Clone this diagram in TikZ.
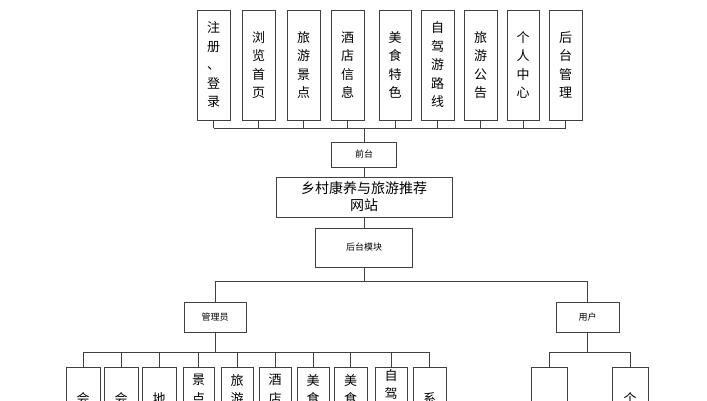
\documentclass[tikz,border=0pt]{standalone}
\usepackage{fontspec}
\newfontfamily\cjk{Noto Sans CJK SC}
\begin{document}
\begin{tikzpicture}[x=1pt,y=-1pt,
 bx/.style={draw=black!75,line width=0.7pt,fill=white,inner sep=0pt,font=\cjk\fontsize{13}{18.5}\selectfont,align=center},
 tx/.style={inner sep=0pt,font=\cjk\fontsize{13}{18.5}\selectfont,align=center},
 lb/.style={draw=black!75,line width=0.7pt,fill=white,inner sep=0pt,font=\cjk\fontsize{9}{11}\selectfont},
 ln/.style={draw=black!75,line width=0.7pt}]
\useasboundingbox (0,0) rectangle (707,400);
\clip (0,0) rectangle (707,400);
% top
\foreach \n/\a/\b/\t in {t1/197/230/{注\\册\\、\\登\\录},t2/242/275/{浏\\览\\首\\页},t3/287/320/{旅\\游\\景\\点},t4/331/364/{酒\\店\\信\\息},t5/379/411/{美\\食\\特\\色},t6/421/454/{自\\驾\\游\\路\\线},t7/464/497/{旅\\游\\公\\告},t8/507/539/{个\\人\\中\\心},t9/549/582/{后\\台\\管\\理}}{
 \node[bx,minimum width={(\b-\a)*1pt},minimum height=110pt] (\n) at ({(\a+\b)/2},65) {\t};
 \draw[ln] (\n.south) -- ++(0,8);
}
\draw[ln] (t1.south |- 0,128) -- (t9.south |- 0,128);
\node[lb,minimum width=65pt,minimum height=25pt] (qt) at (364,154.5) {前台};
\draw[ln] (qt.north) -- (364,128);
\node[bx,font=\cjk\fontsize{14}{17}\selectfont,minimum width=176pt,minimum height=40pt] (ws) at (364,197) {乡村康养与旅游推荐\\网站};
\draw[ln] (qt) -- (ws);
\node[lb,minimum width=97pt,minimum height=39pt] (ht) at (364,247.5) {后台模块};
\draw[ln] (ws) -- (ht);
\draw[ln] (ht.south) -- (364,281);
\node[lb,minimum width=62pt,minimum height=30pt] (gl) at (215,317) {管理员};
\node[lb,minimum width=63pt,minimum height=30pt] (yh) at (587.5,317) {用户};
\draw[ln] (gl.north) -- (215,281) -- (587.5,281) -- (yh.north);
\draw[ln] (gl.south) -- (215,352);
\draw[ln] (yh.south) -- (587.5,352);
\foreach \n/\a/\b/\y/\t in {a1/66/100/392/{会},a2/104/138/392/{会},a3/142/176/392/{地},a4/183/214/374/{景\\点},a5/221/253/374/{旅\\游},a6/259/291/374/{酒\\店},a7/297/329/374/{美\\食},a8/334/367/374/{美\\食},a9/375/407/369/{自\\驾},a10/413/446/392/{系}}{
 \node[bx,anchor=north,minimum width={(\b-\a)*1pt},minimum height=110pt] (\n) at ({(\a+\b)/2},367) {};
 \node[tx,anchor=north] (\n t) at ({(\a+\b)/2},\y) {\t};
 \draw[ln] (\n.north) -- ++(0,-15);
}
\draw[ln] (a1.north |- 0,352) -- (a10.north |- 0,352);
\node[bx,anchor=north,minimum width=36pt,minimum height=110pt] (u1) at (549,367) {};
\node[bx,anchor=north,minimum width=36pt,minimum height=110pt] (u2) at (630,367) {};
\node[tx,anchor=north] (u2t) at (630,392) {个};
\draw[ln] (u1.north) -- (549,352) -- (630,352) -- (u2.north);
\end{tikzpicture}
\end{document}
